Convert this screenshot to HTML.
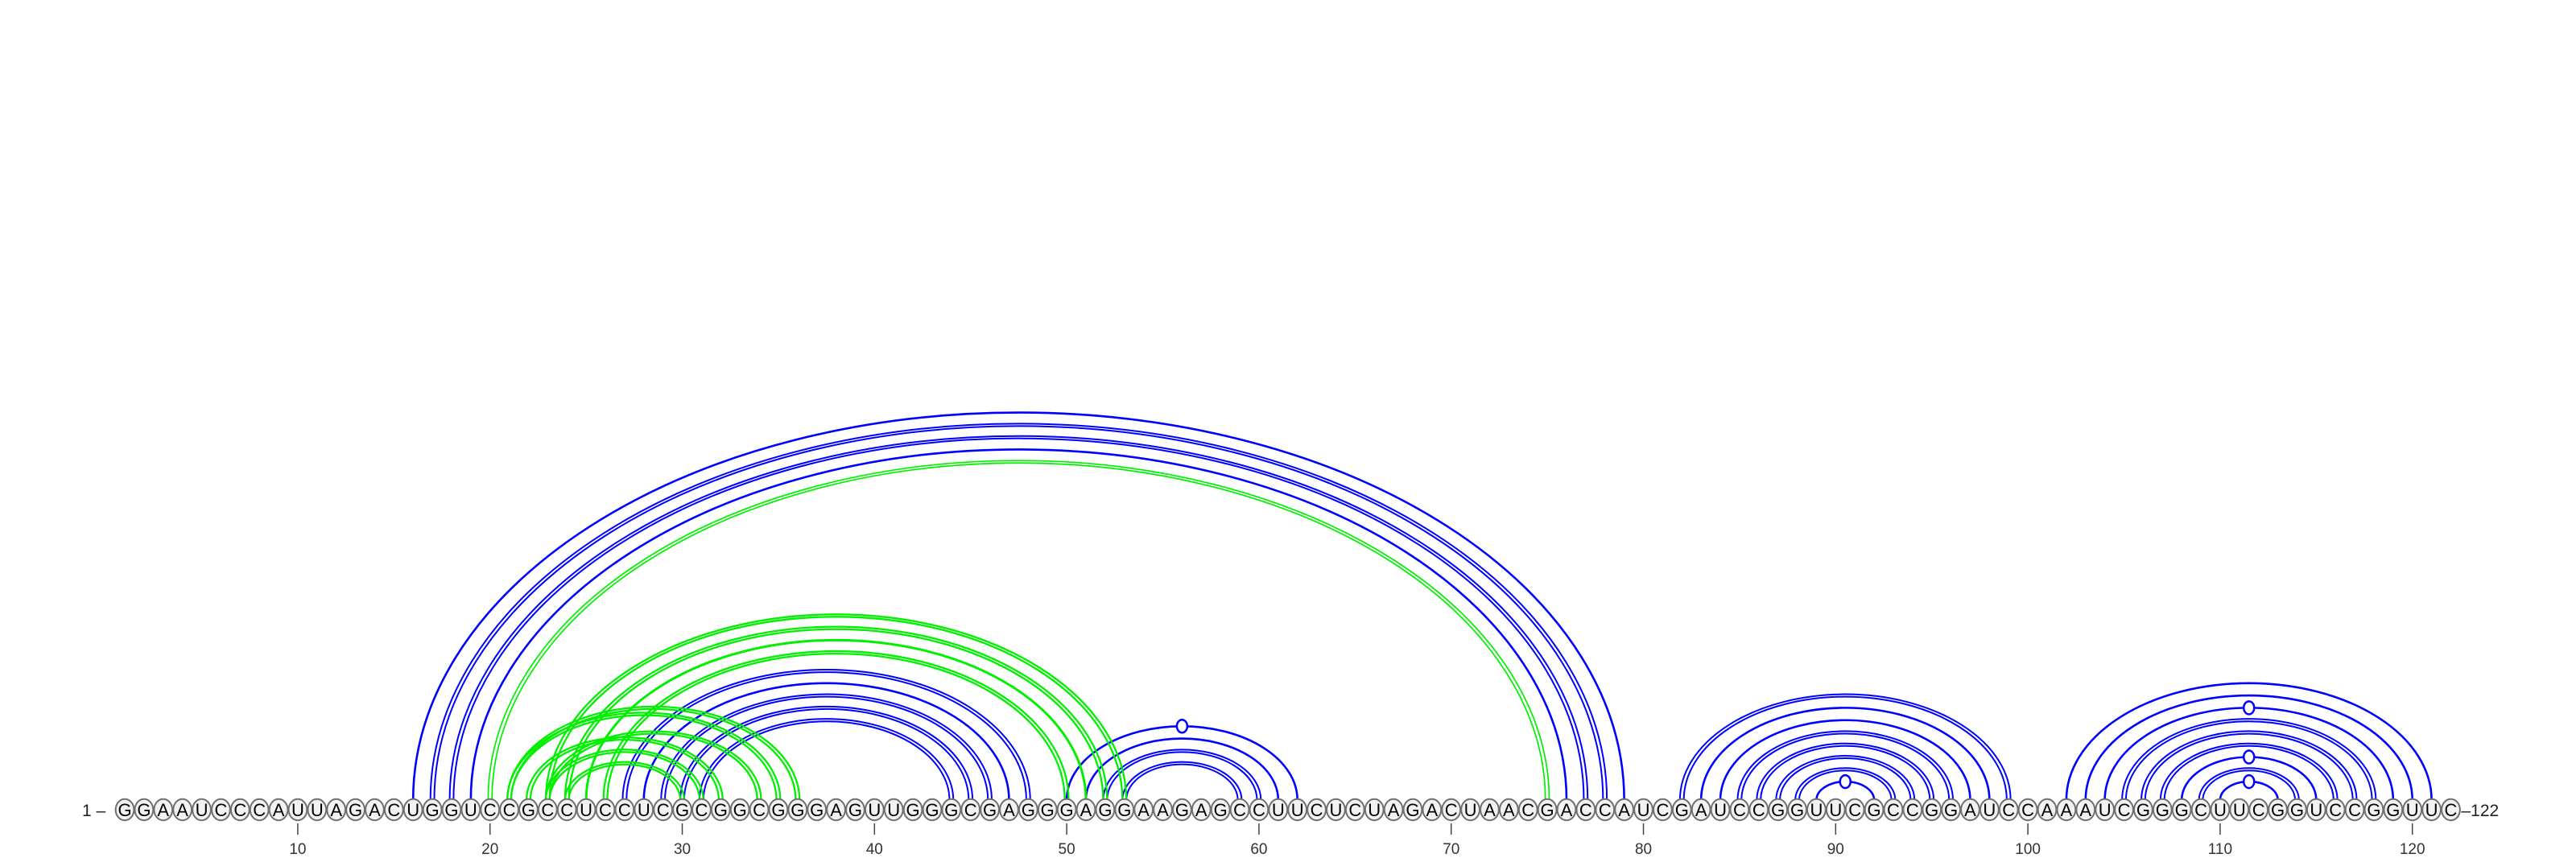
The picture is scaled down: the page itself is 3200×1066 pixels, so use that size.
<!DOCTYPE html>
<html><head><meta charset="utf-8"><title>RNA arc diagram</title>
<style>html,body{margin:0;padding:0;background:#fff;}svg{display:block;}</style></head>
<body>
<svg id="chart" width="3200" height="1066" viewBox="0 0 3200 1066" xmlns="http://www.w3.org/2000/svg">
<g id="arcs"></g>
<g id="nodes"></g>
<g id="axis"></g>
</svg>
<script>
const sequence = "GGAAUCCCAUUAGACUGGUCCGCCUCCUCGCGGCGGGAGUUGGGCGAGGGAGGAAGAGCCUUCUCUAGACUAACGACCAUCGAUCCGGUUCGCCGGAUCCAAAUCGGGCUUCGGUCCGGUUC";
const blueSingle = [[16,79],[19,76],[28,47],[50,62],[51,61],[83,98],[84,97],[89,92],[102,121],[103,120],[104,119],[108,115],[110,113]];
const blueDouble = [[17,78],[18,77],[27,48],[29,46],[30,45],[31,44],[52,60],[53,59],[82,99],[85,96],[86,95],[87,94],[88,93],[105,118],[106,117],[107,116],[109,114]];
const greenDouble = [[20,75],[23,53],[24,52],[26,50],[21,36],[21,35],[22,32],[23,31],[23,34],[24,30]];
const greenSingle = [[25,51]];
const apexMarkers = [[50,62],[89,92],[104,119],[108,115],[110,113]];
const tickValues = [10,20,30,40,50,60,70,80,90,100,110,120];

const NS = "http://www.w3.org/2000/svg";
const X0 = 155, DX = 23.88, BASE = 1006, FOOT = 994, RATIO = 0.64;
function xPos(i){ return X0 + (i-1)*DX; }
function mk(tag, attrs, parent){ const e=document.createElementNS(NS,tag); for(const k in attrs) e.setAttribute(k,attrs[k]); parent.appendChild(e); return e; }
const arcs = document.getElementById('arcs');
function arcPath(i,j,off){
  const x1=xPos(i)-off, x2=xPos(j)+off, rx=(x2-x1)/2, ry=rx*RATIO;
  return `M${x1},${FOOT} A${rx},${ry} 0 0 1 ${x2},${FOOT}`;
}
function drawArc(p,color,dbl,w){
  const offs = dbl ? [-2.4,2.4] : [0];
  offs.forEach(o=>{
    const e = mk('path',{d:arcPath(p[0],p[1],o),fill:'none',stroke:color,'stroke-width':w},arcs);
    
    
  });
}
blueSingle.forEach(p=>drawArc(p,'#0000ff',false,2.6));
blueDouble.forEach(p=>drawArc(p,'#0000ff',true,2.0));
greenDouble.forEach(p=>drawArc(p,'#00f000',true,p[0]===20?1.7:2.3));
greenSingle.forEach(p=>drawArc(p,'#00f000',false,3));
apexMarkers.forEach(p=>{
  const cx=(xPos(p[0])+xPos(p[1]))/2, ry=(xPos(p[1])-xPos(p[0]))/2*RATIO;
  const c = mk('ellipse',{cx:cx,cy:FOOT-ry,rx:6.5,ry:8,fill:'#fff',stroke:'#0000ff','stroke-width':2.5},arcs);
  
  
});
const nodes = document.getElementById('nodes');
for(let i=1;i<=sequence.length;i++){
  const g = mk('g',{},nodes);
  
  
  mk('ellipse',{cx:xPos(i),cy:BASE,rx:11.4,ry:13.2,fill:'#f2f2f2',stroke:'#707070','stroke-width':2},g);
  const t = mk('text',{x:xPos(i),y:BASE+8,'text-anchor':'middle','font-family':'Liberation Sans, sans-serif','font-size':22,fill:'#000'},g);
  t.textContent = sequence[i-1];
}
const axis = document.getElementById('axis');
const l1 = mk('text',{x:102,y:BASE+8,'font-family':'Liberation Sans, sans-serif','font-size':21,fill:'#222'},axis);
l1.textContent='1 \u2013';


const l2 = mk('text',{x:xPos(122)+13,y:BASE+8,'font-family':'Liberation Sans, sans-serif','font-size':21,fill:'#222'},axis);
l2.textContent='\u2013122';


tickValues.forEach(v=>{
  const ln = mk('line',{x1:xPos(v),x2:xPos(v),y1:1023,y2:1037,stroke:'#444','stroke-width':1.5},axis);
  
  
  const t = mk('text',{x:xPos(v),y:1061,'text-anchor':'middle','font-family':'Liberation Sans, sans-serif','font-size':19,fill:'#333'},axis);
  t.textContent=String(v);
  
  
});
</script>
</body></html>
